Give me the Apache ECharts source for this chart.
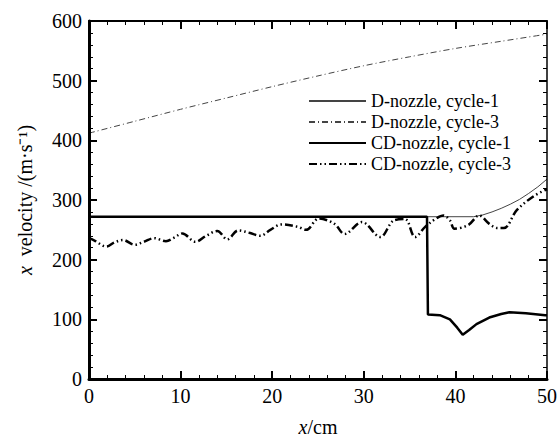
<!DOCTYPE html>
<html>
<head>
<meta charset="utf-8">
<script src="https://cdn.jsdelivr.net/npm/echarts@6/dist/echarts.min.js"></script>
<style>
    html, body { margin: 0; padding: 0; background: #fff; }
    #main { width: 560px; height: 442px; }
</style>
</head>
<body>
<div id="main"></div>
<script>
// 图例名称
var names = ['D-nozzle, cycle-1', 'D-nozzle, cycle-3', 'CD-nozzle, cycle-1', 'CD-nozzle, cycle-3'];

// D-nozzle, cycle-1
var xD1 = [0, 37, 42, 43, 44, 45, 46, 47, 48, 49, 50];
var yD1 = [272, 272, 272, 275, 280, 286, 293, 301, 311, 322, 335];

// D-nozzle, cycle-3
var xD3 = [0, 5, 10, 15, 20, 25, 30, 35, 40, 45, 50];
var yD3 = [412, 432, 452, 471, 490, 508, 525, 540, 554, 566, 578];

// CD-nozzle, cycle-1
var xCD1 = [0, 36.9, 37.0, 38.3, 39.4, 40.2, 40.8, 41.5, 42.3, 43.7, 45.0, 45.9, 47.7, 49.8, 50];
var yCD1 = [272, 272, 108, 107, 100, 86, 74, 82, 92, 103, 109, 112, 110, 107, 107];

// CD-nozzle, cycle-3
var xCD3 = [0, 0.6, 1.9, 2.8, 3.7, 5.0, 6.0, 7.1, 8.4, 9.3, 10.2, 11.6, 12.8, 14.0, 15.1, 16.3, 17.5, 18.7,
    19.8, 21.0, 22.8, 23.7, 25.1, 26.8, 27.9, 29.8, 31.8, 33.3, 34.5, 35.6, 36.7, 37.8, 38.7, 39.4, 39.9,
    41.4, 42.6, 43.7, 44.6, 45.3, 46.7, 48.6, 50];
var yCD3 = [236, 232, 222, 229, 233, 225, 230, 236, 231, 237, 244, 230, 240, 248, 234, 249, 245, 240,
    250, 259, 255, 250, 269, 260, 243, 263, 238, 266, 268, 238, 255, 268, 274, 266, 252,
    258, 274, 260, 253, 253, 283, 307, 318];

// 刻度
var xMin = 0, xMax = 50, xStep = 10;
var yMin = 0, yMax = 600, yStep = 100;

function pairs(xs, ys) {
    var out = [];
    for (var i = 0; i < xs.length; i++) {
        out.push([xs[i], ys[i]]);
    }
    return out;
}

var font = 'Liberation Serif';

function makeAxis(pos, min, max, step, lineW, showLabel) {
    return {
        type: 'value',
        position: pos,
        min: min,
        max: max,
        interval: step,
        z: 5,
        axisLine: { show: true, onZero: false, lineStyle: { color: '#000', width: lineW } },
        axisTick: { show: true, inside: true, length: 8, lineStyle: { color: '#000', width: 2 } },
        minorTick: { show: true, splitNumber: 5, length: 4, lineStyle: { color: '#000', width: 1 } },
        splitLine: { show: false },
        axisLabel: { show: showLabel, color: '#000', fontFamily: font, fontSize: 20, margin: 7 }
    };
}

var xBottom = makeAxis('bottom', xMin, xMax, xStep, 3, true);
xBottom.name = '{i|x}/cm';
xBottom.nameLocation = 'middle';
xBottom.nameGap = 38;
xBottom.nameTextStyle = {
    color: '#000', fontFamily: font, fontSize: 20,
    rich: { i: { fontStyle: 'italic', fontFamily: font, fontSize: 20, color: '#000' } }
};
var xTop = makeAxis('top', xMin, xMax, xStep, 2, false);

var yLeft = makeAxis('left', yMin, yMax, yStep, 3, true);
yLeft.name = '{i|x}  velocity /(m·s⁻¹)';
yLeft.nameLocation = 'middle';
yLeft.nameGap = 54;
yLeft.nameTextStyle = {
    color: '#000', fontFamily: font, fontSize: 20,
    rich: { i: { fontStyle: 'italic', fontFamily: font, fontSize: 20, color: '#000' } }
};
var yRight = makeAxis('right', yMin, yMax, yStep, 1.5, false);

var option = {
    animation: false,
    color: ['#444', '#444', '#000', '#000'],
    grid: { left: 89, right: 9, top: 21, bottom: 58 },
    legend: {
        orient: 'vertical',
        left: 303,
        top: 87,
        itemWidth: 57,
        itemHeight: 14,
        itemGap: 3,
        itemStyle: { color: 'transparent', borderColor: 'transparent', borderWidth: 0 },
        textStyle: { color: '#000', fontFamily: font, fontSize: 18 },
        data: names
    },
    xAxis: [xBottom, xTop],
    yAxis: [yLeft, yRight],
    series: [{
        name: names[0],
        type: 'line',
        symbol: 'none',
        lineStyle: { width: 1 },
        data: pairs(xD1, yD1)
    }, {
        name: names[1],
        type: 'line',
        symbol: 'none',
        smooth: 0.3,
        lineStyle: { width: 1, type: [6, 3, 1, 3] },
        data: pairs(xD3, yD3)
    }, {
        name: names[2],
        type: 'line',
        symbol: 'none',
        lineStyle: { width: 2.5 },
        data: pairs(xCD1, yCD1)
    }, {
        name: names[3],
        type: 'line',
        symbol: 'none',
        smooth: 0.35,
        lineStyle: { width: 2.5, type: [8, 3, 1.5, 3, 1.5, 3] },
        data: pairs(xCD3, yCD3)
    }]
};

var chart = echarts.init(document.getElementById('main'), null, { renderer: 'svg' });
chart.setOption(option);
</script>
</body>
</html>
